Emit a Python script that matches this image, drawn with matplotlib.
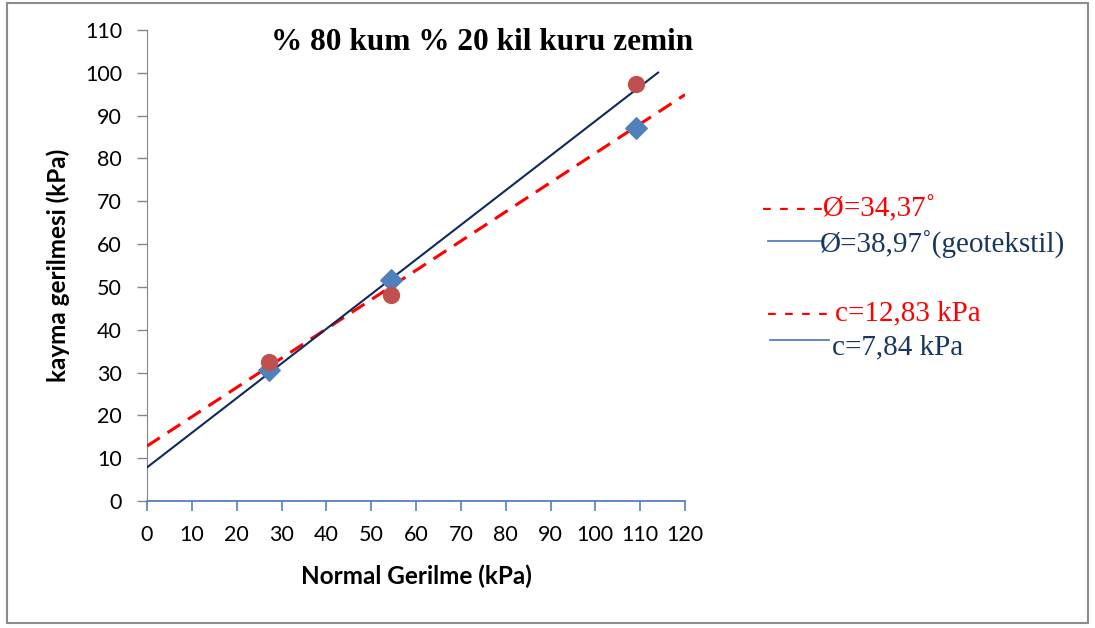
import matplotlib
matplotlib.use("Agg")
import matplotlib.pyplot as plt
from matplotlib.patches import Rectangle
from matplotlib.lines import Line2D
import numpy as np

# data
normal_stress = [27.2, 54.5, 109.0]
shear_soil = [32.5, 48.0, 97.5]          # circles
shear_geotextile = [30.5, 51.5, 87.0]    # diamonds

# trendline parameters (from annotations)
phi_soil, c_soil = 34.37, 12.83
phi_geo, c_geo = 38.97, 7.84
soil_line_x = [0, 120]
geo_line_x = [0, 114]

x_ticks = list(range(0, 121, 10))
y_ticks = list(range(0, 111, 10))

title = "% 80 kum % 20 kil kuru zemin"
xlabel = "Normal Gerilme (kPa)"
ylabel = "kayma gerilmesi (kPa)"

fig = plt.figure(figsize=(10.95, 6.28), dpi=100)
ax = fig.add_axes([147/1095, 1-501/628, (685-147)/1095, (501-30)/628])

lx = np.array(soil_line_x, dtype=float)
ax.plot(lx, c_soil + np.tan(np.radians(phi_soil))*lx, color="#FF0000", lw=2.2,
        dashes=(5, 3), zorder=3)
gx = np.array(geo_line_x, dtype=float)
ax.plot(gx, c_geo + np.tan(np.radians(phi_geo))*gx, color="#0F2A5E", lw=1.5, zorder=3)

ax.scatter(normal_stress, shear_geotextile, marker="D", s=120, color="#4F81BD", zorder=4)
ax.scatter(normal_stress, shear_soil, marker="o", s=130, color="#C0504D", zorder=5)

ax.set_xlim(0, 120)
ax.set_ylim(0, 110)
ax.set_xticks(x_ticks)
ax.set_yticks(y_ticks)
tick_font = "Lato"
for lab in ax.get_xticklabels() + ax.get_yticklabels():
    lab.set_fontfamily(tick_font)
    lab.set_fontsize(15.5)
ax.tick_params(axis="x", direction="out", length=7, color="#4F81BD", width=1.2, pad=10)
ax.tick_params(axis="y", direction="out", length=7, color="#868686", width=1.0, pad=11)
for s in ["top", "right"]:
    ax.spines[s].set_visible(False)
ax.spines["left"].set_color("#868686")
ax.spines["bottom"].set_color("#4F81BD")
ax.spines["bottom"].set_linewidth(1.3)

ax.set_xlabel(xlabel, fontfamily=tick_font, fontweight="bold", fontsize=17.5)
ax.set_ylabel(ylabel, fontfamily=tick_font, fontweight="bold", fontsize=17.5)
ax.xaxis.set_label_coords(0.5, (501-565)/471)
ax.yaxis.set_label_coords((70-147)/538, 0.5)

fig.text(482/1095, 1-42/628, title, fontfamily="Liberation Serif", fontweight="bold",
         fontsize=22.5, ha="center", va="center")

# annotation texts
serif = "Liberation Serif"
fs = 21
fig.text(762/1095, 1-209/628, "- - - -Ø=34,37˚", color="#FF0000", fontfamily=serif,
         fontsize=fs, ha="left", va="center")
fig.add_artist(Line2D([768/1095, 822/1095], [1-241/628, 1-241/628], color="#4F81BD", lw=1.3))
fig.text(820/1095, 1-245/628, "Ø=38,97˚(geotekstil)", color="#17375E", fontfamily=serif,
         fontsize=fs, ha="left", va="center")
fig.add_artist(Line2D([770/1095, 829/1095], [1-340/628, 1-340/628], color="#4F81BD", lw=1.3))
fig.text(767/1095, 1-313/628, "- - - - c=12,83 kPa", color="#FF0000", fontfamily=serif,
         fontsize=fs, ha="left", va="center")
fig.text(832/1095, 1-347/628, "c=7,84 kPa", color="#17375E", fontfamily=serif,
         fontsize=fs, ha="left", va="center")

fig.add_artist(Rectangle((7/1095, 1-623/628), (1088-7)/1095, (623-3)/628,
                         transform=fig.transFigure, fill=False, edgecolor="#8C8C8C", lw=1.5))

fig.savefig("out.png", dpi=100)
